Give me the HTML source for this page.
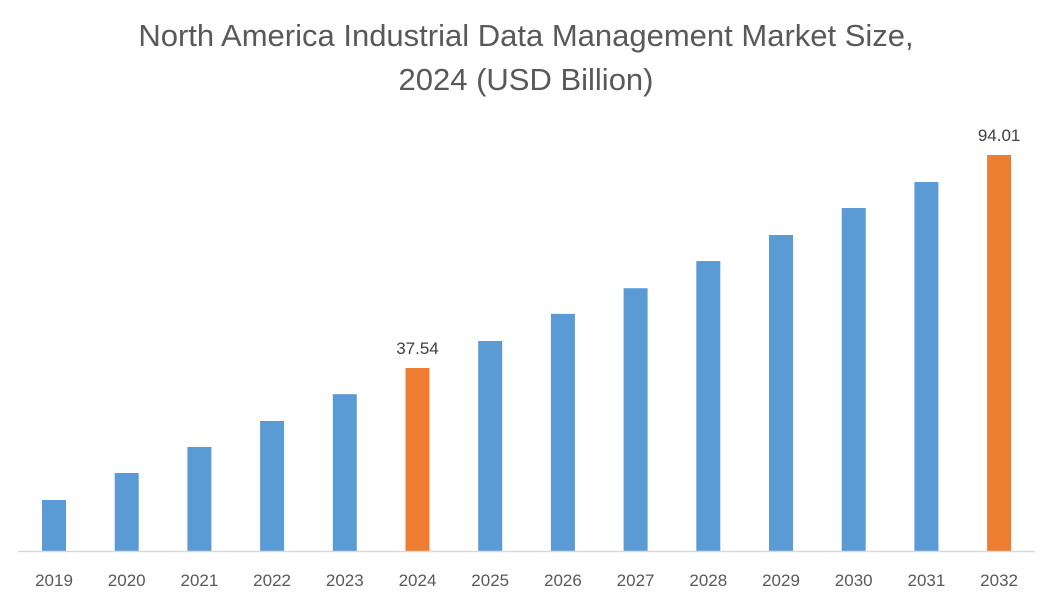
<!DOCTYPE html>
<html><head><meta charset="utf-8"><style>
body{margin:0;background:#fff;}
svg{display:block;font-family:"Liberation Sans",sans-serif;}
</style></head><body>
<svg width="1053" height="600">
<text x="526" y="46" text-anchor="middle" font-size="31" fill="#595959">North America Industrial Data Management Market Size,</text>
<text x="526" y="90" text-anchor="middle" font-size="31" fill="#595959">2024 (USD Billion)</text>
<g id="bars"></g>
<line x1="18" y1="551.5" x2="1035" y2="551.5" stroke="#d9d9d9" stroke-width="1.5"/>
</svg>
<script>
const categories=["2019","2020","2021","2022","2023","2024","2025","2026","2027","2028","2029","2030","2031","2032"];
const values=[2.55,9.71,16.6,23.5,30.6,37.54,44.7,51.9,58.7,65.9,72.8,79.96,86.85,94.01];
const highlight=["2024","2032"];
const yMin=-10.97, pxPerUnit=3.772, base=551;
const y=v=>base-(v-yMin)*pxPerUnit;
const x=i=>54+i*72.7;
const g=document.getElementById('bars');
const ns="http://www.w3.org/2000/svg";
categories.forEach((c,i)=>{
  const r=document.createElementNS(ns,'rect');
  
  
  const hl=highlight.includes(c);
  r.setAttribute('x',x(i)-12);r.setAttribute('width',24);
  r.setAttribute('y',y(values[i]));r.setAttribute('height',base-y(values[i]));
  r.setAttribute('fill',hl?'#ed7d31':'#5b9bd5');
  g.appendChild(r);
  const t=document.createElementNS(ns,'text');
  
  
  t.setAttribute('x',x(i));t.setAttribute('y',586);t.setAttribute('text-anchor','middle');
  t.setAttribute('font-size','17');t.setAttribute('fill','#595959');t.textContent=c;
  g.appendChild(t);
  if(hl){
    const l=document.createElementNS(ns,'text');
    
    
    l.setAttribute('x',x(i));l.setAttribute('y',y(values[i])-14);l.setAttribute('text-anchor','middle');
    l.setAttribute('font-size','17');l.setAttribute('fill','#404040');l.textContent=values[i].toFixed(2);
    g.appendChild(l);
  }
});
</script>
</body></html>
